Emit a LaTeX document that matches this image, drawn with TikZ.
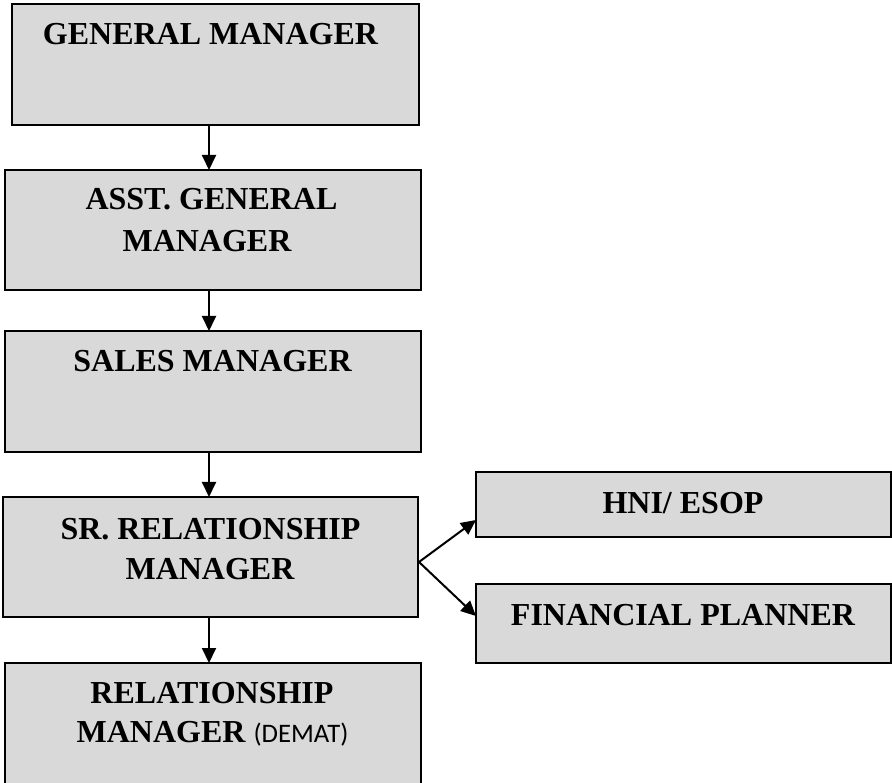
\documentclass[tikz,border=0pt]{standalone}
\usepackage{fontspec}
\setmainfont{Liberation Serif}
\newfontfamily\calib{Carlito}
\usetikzlibrary{arrows.meta,calc}
\definecolor{boxgray}{HTML}{D9D9D9}
\begin{document}
\begin{tikzpicture}[x=1pt,y=-1pt,
  box/.style={draw=black, line width=1.8pt, fill=boxgray, anchor=north west, inner sep=0pt, outer sep=0pt},
  lbl/.style={font=\fontsize{32}{38}\selectfont\bfseries, anchor=base, inner sep=0pt},
  conn/.style={line width=2pt, -{Triangle[length=15pt,width=14pt]}}]
\clip (0,0) rectangle (892,783);
\fill[white] (0,0) rectangle (892,783);
% boxes
\node[box, minimum width=407pt, minimum height=121pt] (gm) at (12,4) {};
\node[box, minimum width=416pt, minimum height=120pt] (agm) at (5,170) {};
\node[box, minimum width=416pt, minimum height=121pt] (sm) at (5,331) {};
\node[box, minimum width=415pt, minimum height=120pt] (srm) at (3,497) {};
\node[box, minimum width=416pt, minimum height=140pt] (rm) at (5,663) {};
\node[box, minimum width=415pt, minimum height=65pt] (hni) at (476,472) {};
\node[box, minimum width=415pt, minimum height=79pt] (fp) at (476,584) {};
% labels
\node[lbl] (gmt) at (210.5,45) {GENERAL MANAGER};
\node[lbl] (agmt1) at (211.5,210) {ASST. GENERAL};
\node[lbl] (agmt2) at (207,252) {MANAGER};
\node[lbl] (smt) at (212.5,372) {SALES MANAGER};
\node[lbl] (srmt1) at (210.5,539) {SR. RELATIONSHIP};
\node[lbl] (srmt2) at (210,579) {MANAGER};
\node[lbl] (rmt1) at (212,703) {RELATIONSHIP};
\node[lbl] (rmt2) at (212.5,742) {MANAGER {\calib\mdseries\fontsize{26.7}{30}\selectfont(DEMAT)}};
\node[lbl] (hnit) at (683,513) {HNI/ ESOP};
\node[lbl] (fpt) at (683,625) {FINANCIAL PLANNER};
% connectors
\coordinate (ax) at (209,0);
\draw[conn] (gm.south -| ax) -- (agm.north -| ax);
\draw[conn] (agm.south -| ax) -- (sm.north -| ax);
\draw[conn] (sm.south -| ax) -- (srm.north -| ax);
\draw[conn] (srm.south -| ax) -- (rm.north -| ax);
\coordinate (j) at ($(srm.east)+(1,5)$);
\draw[conn] (j) -- ($(hni.south west)+(0,-17)$);
\draw[conn] (j) -- ($(fp.north west)+(0,32)$);
\end{tikzpicture}
\end{document}
